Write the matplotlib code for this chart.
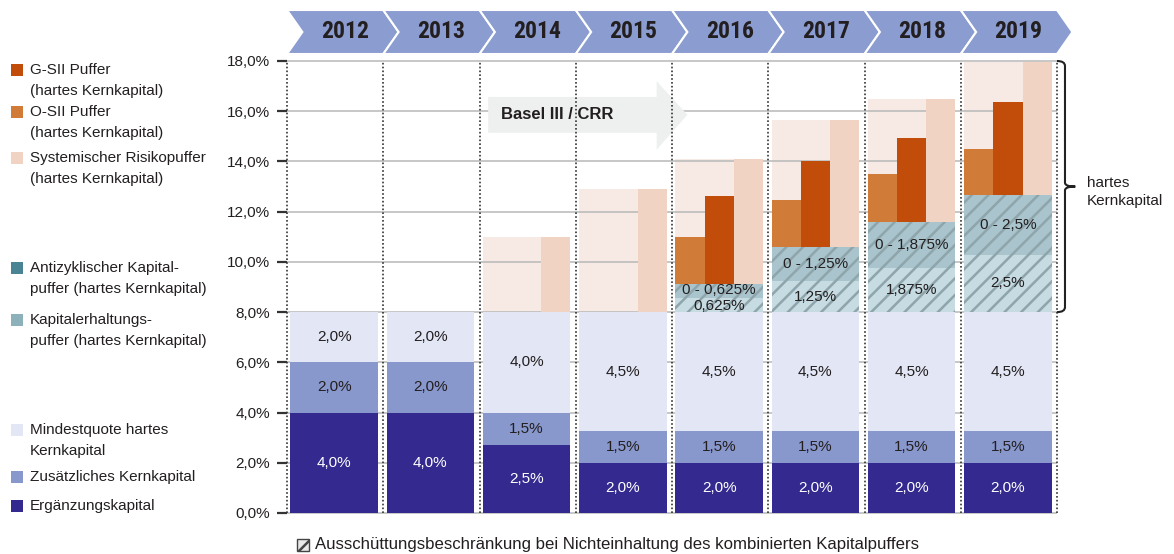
import matplotlib
matplotlib.use('Agg')
import matplotlib.pyplot as plt
import numpy as np
from matplotlib.patches import Polygon, Rectangle, PathPatch
from matplotlib.path import Path
from matplotlib import font_manager as fm
import matplotlib.transforms as mtransforms

plt.rcParams['font.family'] = ['Liberation Sans', 'DejaVu Sans']
plt.rcParams['hatch.linewidth'] = 1.8

# ---------------- data ----------------
years = ['2012', '2013', '2014', '2015', '2016', '2017', '2018', '2019']

ergaenzung = [4.0, 4.0, 2.7, 2.0, 2.0, 2.0, 2.0, 2.0]
zusaetzlich = [2.0, 2.0, 1.3, 1.25, 1.25, 1.25, 1.25, 1.25]
mindestquote = [2.0, 2.0, 4.0, 4.75, 4.75, 4.75, 4.75, 4.75]
ergaenzung_labels = ['4,0%', '4,0%', '2,5%', '2,0%', '2,0%', '2,0%', '2,0%', '2,0%']
zusaetzlich_labels = ['2,0%', '2,0%', '1,5%', '1,5%', '1,5%', '1,5%', '1,5%', '1,5%']
mindest_labels = ['2,0%', '2,0%', '4,0%', '4,5%', '4,5%', '4,5%', '4,5%', '4,5%']

kapitalerhaltung = [0, 0, 0, 0, 0.55, 1.24, 1.76, 2.28]
antizyklisch = [0, 0, 0, 0, 0.57, 1.36, 1.84, 2.37]
kapitalerhaltung_labels = ['', '', '', '', '0,625%', '1,25%', '1,875%', '2,5%']
antizyklisch_labels = ['', '', '', '', '0 - 0,625%', '0 - 1,25%', '0 - 1,875%', '0 - 2,5%']

osii = [0, 0, 0, 0, 1.88, 1.87, 1.89, 1.86]
gsii = [0, 0, 0, 0, 3.51, 3.40, 3.32, 3.70]
systemisch = [0, 0, 3.0, 4.9, 4.97, 5.05, 4.88, 5.32]

legend_entries = [
    ('#C24D0A', ['G-SII Puffer', '(hartes Kernkapital)']),
    ('#D07B37', ['O-SII Puffer', '(hartes Kernkapital)']),
    ('#F0D3C3', ['Systemischer Risikopuffer', '(hartes Kernkapital)']),
    ('#4A8494', ['Antizyklischer Kapital-', 'puffer (hartes Kernkapital)']),
    ('#8DB1BA', ['Kapitalerhaltungs-', 'puffer (hartes Kernkapital)']),
    ('#E3E6F5', ['Mindestquote hartes', 'Kernkapital']),
    ('#8898CC', ['Zusätzliches Kernkapital']),
    ('#33298F', ['Ergänzungskapital']),
]
bottom_legend = 'Ausschüttungsbeschränkung bei Nichteinhaltung des kombinierten Kapitalpuffers'

# ---------------- colours ----------------
c_erg, c_zus, c_min = '#33298F', '#8898CC', '#E3E6F5'
c_kap, c_anti, c_hatch = '#C6DCE2', '#A9C4CC', '#8FA5AC'
c_bg, c_sys, c_osii, c_gsii = '#F7EAE4', '#F0D3C3', '#D07B37', '#C24D0A'
c_text = '#231F20'

W, H = 1174, 554
fig = plt.figure(figsize=(W / 100, H / 100), dpi=100)
ax = fig.add_axes([287 / W, 41 / H, 770 / W, 452 / H])

x = np.arange(len(years))
off, bw = 0.035, 0.91
w3 = bw / 3
erg = np.array(ergaenzung)
zus = np.array(zusaetzlich)
mnd = np.array(mindestquote)
kap = np.array(kapitalerhaltung)
anti = np.array(antizyklisch)
base = erg + zus + mnd + kap + anti

# lower stack
ax.bar(x + off, erg, width=bw, align='edge', color=c_erg, zorder=3)
ax.bar(x + off, zus, bottom=erg, width=bw, align='edge', color=c_zus, zorder=3)
ax.bar(x + off, mnd, bottom=erg + zus, width=bw, align='edge', color=c_min, zorder=3)
# hatched buffers
ax.bar(x + off, kap, bottom=erg + zus + mnd, width=bw, align='edge', color=c_kap,
       edgecolor=c_hatch, hatch='//', linewidth=0, zorder=3)
ax.bar(x + off, anti, bottom=erg + zus + mnd + kap, width=bw, align='edge', color=c_anti,
       edgecolor=c_hatch, hatch='//', linewidth=0, zorder=3)
# systemic background + buffers
ax.bar(x + off, systemisch, bottom=base, width=bw, align='edge', color=c_bg, zorder=1)
ax.bar(x + off, osii, bottom=base, width=w3, align='edge', color=c_osii, zorder=3)
ax.bar(x + off + w3, gsii, bottom=base, width=w3, align='edge', color=c_gsii, zorder=3)
ax.bar(x + off + 2 * w3, systemisch, bottom=base, width=w3, align='edge', color=c_sys, zorder=3)

# value labels
cx = x + off + bw / 2
for i in range(len(years)):
    ax.text(cx[i], erg[i] / 2, ergaenzung_labels[i], ha='center', va='center',
            color='white', fontsize=11, zorder=6)
    ax.text(cx[i], erg[i] + zus[i] / 2, zusaetzlich_labels[i], ha='center', va='center',
            color=c_text, fontsize=11, zorder=6)
    ax.text(cx[i], erg[i] + zus[i] + mnd[i] / 2, mindest_labels[i], ha='center', va='center',
            color=c_text, fontsize=11, zorder=6)
    if kap[i] > 0:
        b0 = erg[i] + zus[i] + mnd[i]
        yk = b0 + kap[i] / 2
        ya = b0 + kap[i] + anti[i] / 2
        if kap[i] < 0.8:
            yk -= 0.05
            ya += 0.05
        ax.text(cx[i], yk, kapitalerhaltung_labels[i], ha='center', va='center',
                color=c_text, fontsize=11, zorder=6)
        ax.text(cx[i], ya, antizyklisch_labels[i], ha='center', va='center',
                color=c_text, fontsize=11, zorder=6)

# grid
yt = np.arange(0, 19, 2)
ax.hlines(yt, 0, len(years), colors='#BDBDBD', linewidth=1.2, zorder=1.5, clip_on=False)
ax.vlines(np.arange(len(years) + 1), 0, 18, colors='#333333', linestyles=(0, (1, 1.3)),
          linewidth=1.2, zorder=4, clip_on=False)

ax.set_xlim(0, len(years))
ax.set_ylim(0, 18)
for s in ax.spines.values():
    s.set_visible(False)
ax.set_xticks([])
ax.set_yticks(yt)
ax.set_yticklabels([f'{v:.1f}%'.replace('.', ',') for v in yt])
ax.tick_params(axis='y', length=7, width=1.6, color='#333333', labelsize=11,
               labelcolor=c_text, pad=5)

# Basel III arrow
arrow = Polygon([(2.09, 15.14), (3.84, 15.14), (3.84, 14.46), (4.16, 15.86),
                 (3.84, 17.2), (3.84, 16.57), (2.09, 16.57)], closed=True,
                facecolor='#EEF0F0', edgecolor='none', zorder=2.5)
ax.add_patch(arrow)
ax.text(2.22, 15.86, 'Basel III / CRR', ha='left', va='center', fontsize=12,
        fontweight='bold', color=c_text, zorder=6)

# year chevrons
trans = mtransforms.blended_transform_factory(ax.transData, ax.transAxes)
top_f, bot_f = (513 - 10) / 452, (513 - 54) / 452
mid_f = (top_f + bot_f) / 2
tip = 0.16
names = {f.name for f in fm.fontManager.ttflist}
if 'Liberation Sans Narrow' in names:
    yfont, ysize = 'Liberation Sans Narrow', 18
elif 'Roboto Condensed' in names:
    yfont, ysize = 'Roboto Condensed', 17
else:
    yfont, ysize = 'Liberation Sans', 15
for i, yr in enumerate(years):
    L, R = i, i + 1
    poly = Polygon([(L, bot_f), (L + tip, mid_f), (L, top_f), (R, top_f),
                    (R + tip, mid_f), (R, bot_f)], closed=True, transform=trans,
                   facecolor='#8B9CD0', edgecolor='white', linewidth=1.5, clip_on=False,
                   zorder=5)
    ax.add_patch(poly)
    ax.text(i + 0.6, mid_f, yr, transform=trans, ha='center', va='center',
            fontsize=ysize, fontweight='bold', family=yfont, color=c_text, zorder=6,
            clip_on=False)

# brace
bx, bl, bt = 8.083, 8.0, 8.19
verts = [(bl, 18.0), (bx, 18.0), (bx, 17.8),
         (bx, 13.15), (bx, 13.0), (bt, 13.0),
         (bx, 13.0), (bx, 12.85),
         (bx, 8.2), (bx, 8.0), (bl, 8.0)]
codes = [Path.MOVETO, Path.CURVE3, Path.CURVE3,
         Path.LINETO, Path.CURVE3, Path.CURVE3,
         Path.CURVE3, Path.CURVE3,
         Path.LINETO, Path.CURVE3, Path.CURVE3]
ax.add_patch(PathPatch(Path(verts, codes), facecolor='none', edgecolor='#222222',
                       linewidth=1.5, clip_on=False, zorder=6))
ax.text(8.31, 12.8, 'hartes\nKernkapital', ha='left', va='center', fontsize=11,
        color=c_text, linespacing=1.35, clip_on=False)

# left legend
leg_y = [70, 112, 158, 268, 320, 430, 477, 506]
for (col, lines), yc in zip(legend_entries, leg_y):
    fig.add_artist(Rectangle((11 / W, 1 - (yc + 6) / H), 12 / W, 12 / H,
                             facecolor=col, edgecolor='none', transform=fig.transFigure))
    for k, line in enumerate(lines):
        fig.text(30 / W, 1 - (yc + 21.5 * k) / H, line, ha='left', va='center',
                 fontsize=11, color=c_text)

# bottom legend
fig.add_artist(Rectangle((297 / W, 1 - 551 / H), 12 / W, 12 / H, facecolor='#E8E8E8',
                         edgecolor='#444444', linewidth=1.0, hatch='//',
                         transform=fig.transFigure))
fig.text(315 / W, 1 - 545 / H, bottom_legend, ha='left', va='center', fontsize=12.1,
         color=c_text)

fig.savefig('out.png', dpi=100)
